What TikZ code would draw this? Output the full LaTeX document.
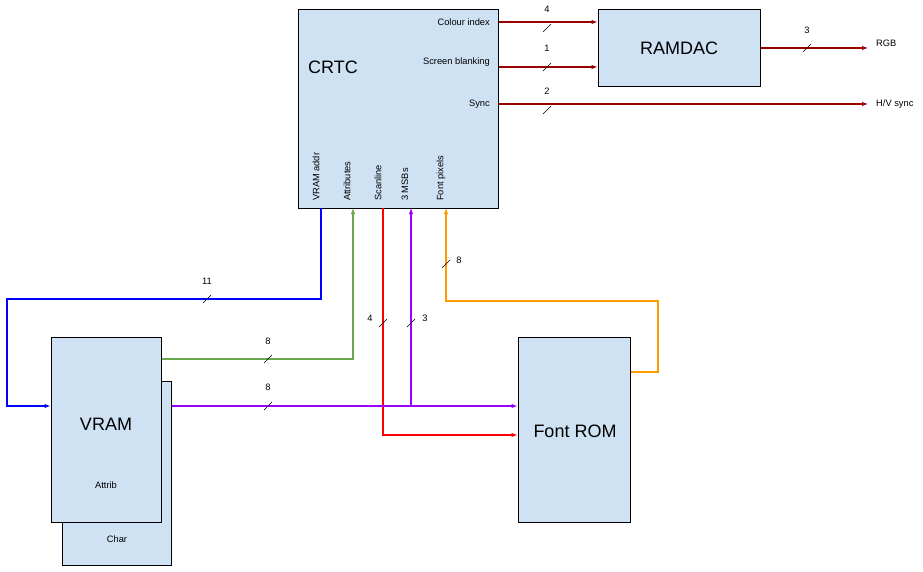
\documentclass[tikz,border=0pt]{standalone}
\usepackage{fontspec}
\setmainfont{Liberation Sans}
\usetikzlibrary{arrows.meta, positioning}
\definecolor{boxFill}{RGB}{207, 226, 243}
\definecolor{outRed}{RGB}{153, 0, 0}
\definecolor{addrBlue}{RGB}{0, 0, 255}
\definecolor{attrGreen}{RGB}{106, 168, 79}
\definecolor{scanRed}{RGB}{255, 0, 0}
\definecolor{charPurple}{RGB}{153, 0, 255}
\definecolor{fontOrange}{RGB}{255, 153, 0}
\tikzset{
    hw_block/.style={
        draw=black,
        fill=boxFill,
        line width=1pt,
        inner sep=0pt
    },
    hw_title/.style={
        font=\fontsize{18}{20}\selectfont,
        inner sep=0pt
    },
    port_label/.style={
        font=\fontsize{9.3}{10}\selectfont,
        inner sep=0pt
    },
    sig_edge/.style={
        -{Latex[length=6pt,width=4.5pt]},
        line width=1.05pt
    },
    bus_count/.style={
        font=\fontsize{9.3}{10}\selectfont,
        inner sep=0pt
    }
}
\newcommand{\busmark}[1]{\draw[black, line width=0.6pt] ([shift={(-4,4)}]#1) -- ++(8,-8);}

\begin{document}
\begin{tikzpicture}[x=1pt, y=-1pt]
    \useasboundingbox (0,0) rectangle (923,572);

    % blocks
    \node[hw_block, minimum width=200, minimum height=198] (crtc) at (398,109) {};
    \node[hw_block, minimum width=162, minimum height=77] (ramdac) at (679,48.5) {};
    \node[hw_block, minimum width=109, minimum height=184] (charram) at (117,473) {};
    \node[hw_block, minimum width=110, minimum height=185] (vram) at (106,429.5) {};
    \node[hw_block, minimum width=112, minimum height=185] (fontrom) at (574,429.5) {};

    \node[hw_title] (crtcT) at (333,67) {CRTC};
    \node[hw_title] (ramdacT) at (ramdac.center) {RAMDAC};
    \node[hw_title] (vramT) at (106,424) {VRAM};
    \node[hw_title] (fontromT) at (575,431) {Font ROM};
    \node[port_label] (attribT) at (106,485) {Attrib};
    \node[port_label] (charT) at (117,539) {Char};

    % CRTC ports
    \node[port_label, anchor=east] (pCol) at (490,22) {Colour index};
    \node[port_label, anchor=east] (pBlank) at (490,62) {Screen blanking};
    \node[port_label, anchor=east] (pSync) at (490,104) {Sync};
    \node[port_label, rotate=90, anchor=west] (pAddr) at (316,201) {VRAM addr};
    \node[port_label, rotate=90, anchor=west] (pAttr) at (347,201) {Attributes};
    \node[port_label, rotate=90, anchor=west] (pScan) at (378,201) {Scanline};
    \node[port_label, rotate=90, anchor=west] (pMsb) at (405,201) {3 MSBs};
    \node[port_label, rotate=90, anchor=west] (pFont) at (441,201) {Font pixels};

    \node[port_label, anchor=west] (rgbT) at (876,43) {RGB};
    \node[port_label, anchor=west] (hvT) at (876,104) {H/V sync};

    \coordinate (cCol) at (crtc.east |- 0,22);
    \coordinate (cBlank) at (crtc.east |- 0,67);
    \coordinate (cSync) at (crtc.east |- 0,104);
    \coordinate (rgbEnd) at (868,48);
    \coordinate (hvEnd) at (868,104);
    \coordinate (cAddr) at (321,208);
    \coordinate (cAttr) at (353,208);
    \coordinate (cScan) at (383,208);
    \coordinate (cMsb) at (411,208);
    \coordinate (cFont) at (446,208);
    \coordinate (msbTap) at (411,406);

    % outputs
    \draw[sig_edge, outRed] (cCol) -- (ramdac.west |- cCol);
    \draw[sig_edge, outRed] (cBlank) -- (ramdac.west |- cBlank);
    \draw[sig_edge, outRed] (cSync) -- (hvEnd);
    \draw[sig_edge, outRed] (ramdac.east |- rgbEnd) -- (rgbEnd);

    % memory side
    \draw[sig_edge, addrBlue] (cAddr) -- (321,299) -- (7,299) -- (7,406) -- (vram.west |- 0,406);
    \draw[sig_edge, attrGreen] (vram.east |- 0,359) -- (353,359) -- (cAttr);
    \draw[sig_edge, scanRed] (cScan) -- (383,435) -- (fontrom.west |- 0,435);
    \draw[sig_edge, charPurple] (charram.east |- msbTap) -- (fontrom.west |- msbTap);
    \draw[sig_edge, charPurple] (msbTap) -- (cMsb);
    \draw[sig_edge, fontOrange] (fontrom.east |- 0,372) -- (658,372) -- (658,301) -- (446,301) -- (cFont);

    % bus widths
    \busmark{547,28}  \node[bus_count] (w1) at (547,9) {4};
    \busmark{547,67}  \node[bus_count] (w2) at (547,48) {1};
    \busmark{547,110} \node[bus_count] (w3) at (547,91) {2};
    \busmark{807,48}  \node[bus_count] (w4) at (807,30) {3};
    \busmark{207,299} \node[bus_count] (w5) at (207,281) {11};
    \busmark{268,359} \node[bus_count] (w6) at (268,341) {8};
    \busmark{268,406} \node[bus_count] (w7) at (268,387) {8};
    \busmark{383,323} \node[bus_count] (w8) at (370,318) {4};
    \busmark{411,323} \node[bus_count] (w9) at (425,318) {3};
    \busmark{446,264} \node[bus_count] (w10) at (459,260) {8};
\end{tikzpicture}
\end{document}
